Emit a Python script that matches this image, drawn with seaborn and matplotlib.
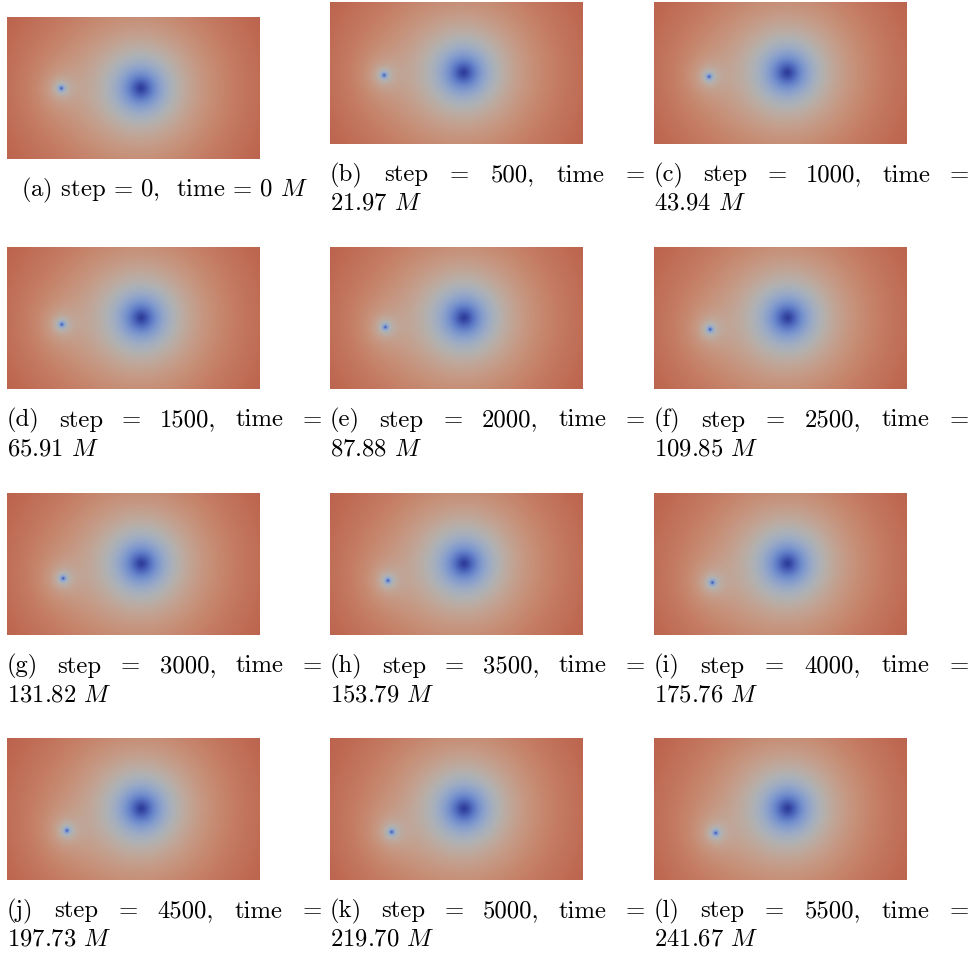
import numpy as np
import matplotlib
matplotlib.use("Agg")
import matplotlib.pyplot as plt
import seaborn as sns
from matplotlib.colors import ListedColormap

# Snapshot metadata
panel_labels = ["a", "b", "c", "d", "e", "f", "g", "h", "i", "j", "k", "l"]
steps = [0, 500, 1000, 1500, 2000, 2500, 3000, 3500, 4000, 4500, 5000, 5500]
times = [0.0, 21.97, 43.94, 65.91, 87.88, 109.85, 131.82, 153.79, 175.76,
         197.73, 219.70, 241.67]

# Puncture positions as fractions of the slice (x from left, y from top)
big_x = [0.528, 0.527, 0.526, 0.530, 0.529, 0.527, 0.530, 0.529, 0.527, 0.530, 0.529, 0.527]
big_y = [0.500, 0.495, 0.495, 0.500, 0.500, 0.500, 0.495, 0.495, 0.495, 0.495, 0.495, 0.495]
small_x = [0.214, 0.213, 0.217, 0.216, 0.218, 0.221, 0.221, 0.228, 0.230, 0.236, 0.243, 0.243]
small_y = [0.500, 0.514, 0.524, 0.547, 0.566, 0.582, 0.599, 0.615, 0.629, 0.650, 0.660, 0.667]

# Bare-mass parameters of the conformal factor (in slice pixels)
M_BIG = 14.0
M_SMALL = 1.3

W, H = 972, 957
plt.rcParams["mathtext.fontset"] = "cm"
plt.rcParams["font.family"] = ["cmr10"]
FS = 17.8

fig = plt.figure(figsize=(W / 100, H / 100), dpi=100)
renderer = fig.canvas.get_renderer()

# Shaded cool-to-warm map
base = plt.get_cmap("coolwarm")(np.linspace(0, 1, 256))
base[:, :3] *= 0.8
cmap = ListedColormap(base)

IMG_W, IMG_H = 253, 142
RES = 2
col_left = [7, 330, 654]
row_top = [[17, 2, 2], [247, 247, 247], [493, 493, 493], [738, 738, 738]]
CAP_W = 315


def lapse(bx, by, sx, sy):
    nx, ny = IMG_W * RES, IMG_H * RES
    x = (np.arange(nx) + 0.5) / RES
    y = (np.arange(ny) + 0.5) / RES
    X, Y = np.meshgrid(x, y)
    rb = np.sqrt((X - bx * IMG_W) ** 2 + (Y - by * IMG_H) ** 2 + 0.25)
    rs = np.sqrt((X - sx * IMG_W) ** 2 + (Y - sy * IMG_H) ** 2 + 0.25)
    psi = 1.0 + M_BIG / rb + M_SMALL / rs
    return psi ** -2


def fx(px):
    return px / W


def fy(py):
    return 1 - py / H


for k in range(12):
    r, c = divmod(k, 3)
    left = col_left[c]
    top = row_top[r][c]
    ax = fig.add_axes([fx(left), fy(top + IMG_H), IMG_W / W, IMG_H / H])
    field = lapse(big_x[k], big_y[k], small_x[k], small_y[k])
    sns.heatmap(field, ax=ax, cmap=cmap, vmin=0.0, vmax=1.0, cbar=False,
                xticklabels=False, yticklabels=False, rasterized=True)
    ax.set_axis_off()

    bottom = top + IMG_H
    lab = panel_labels[k]
    if k == 0:
        fig.text(fx(left + CAP_W / 2), fy(bottom + 37),
                 f"({lab}) step = {steps[k]},  time = 0 $M$",
                 ha="center", va="baseline", fontsize=FS)
        continue

    # Justified first caption line, remainder on the second line
    words = [f"({lab})", "step", "=", f"{steps[k]},", "time", "="]
    objs = [fig.text(0, fy(bottom + 37.5), w, ha="left", va="baseline",
                     fontsize=FS) for w in words]
    widths = [o.get_window_extent(renderer).width for o in objs]
    gap = (CAP_W - sum(widths)) / (len(words) - 1)
    xpos = left
    for o, wd in zip(objs, widths):
        o.set_x(fx(xpos))
        xpos += wd + gap
    fig.text(fx(left), fy(bottom + 66), f"{times[k]:.2f} $M$",
             ha="left", va="baseline", fontsize=FS)

fig.savefig("out.png", dpi=100)
